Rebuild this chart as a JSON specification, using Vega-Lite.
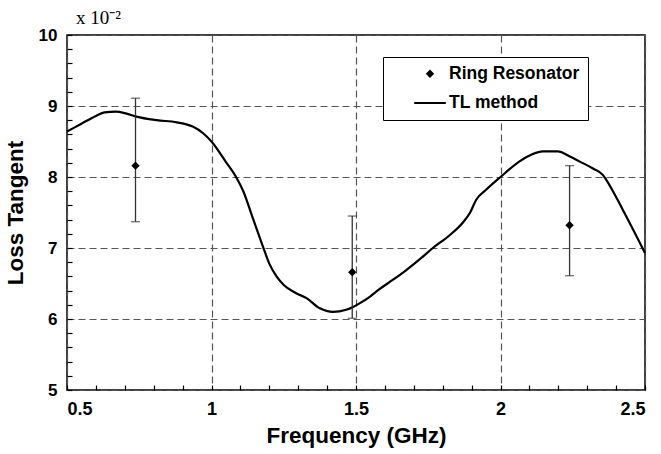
{
  "$schema": "https://vega.github.io/schema/vega-lite/v6.json",
  "width": 578,
  "height": 355,
  "autosize": "none",
  "padding": {"left": 67, "top": 35, "right": 16, "bottom": 64},
  "background": "white",
  "config": {
    "view": {"stroke": "black", "strokeWidth": 1.5},
    "font": "Liberation Sans"
  },
  "title": {
    "text": "x 10⁻²",
    "anchor": "start",
    "frame": "group",
    "font": "Liberation Serif",
    "fontSize": 19,
    "fontWeight": "normal",
    "color": "black",
    "offset": -2,
    "dx": 9
  },
  "datasets": {
    "tl": [
      {"f": 0.5, "v": 8.64}, {"f": 0.55, "v": 8.75}, {"f": 0.6, "v": 8.86}, {"f": 0.63, "v": 8.91},
      {"f": 0.67, "v": 8.92}, {"f": 0.7, "v": 8.9}, {"f": 0.74, "v": 8.85}, {"f": 0.81, "v": 8.8},
      {"f": 0.88, "v": 8.77}, {"f": 0.935, "v": 8.71}, {"f": 0.97, "v": 8.62}, {"f": 1.0, "v": 8.5},
      {"f": 1.05, "v": 8.21}, {"f": 1.085, "v": 8.0}, {"f": 1.11, "v": 7.8}, {"f": 1.143, "v": 7.42},
      {"f": 1.178, "v": 7.02}, {"f": 1.2, "v": 6.78}, {"f": 1.225, "v": 6.6}, {"f": 1.25, "v": 6.48},
      {"f": 1.29, "v": 6.37}, {"f": 1.33, "v": 6.29}, {"f": 1.375, "v": 6.15}, {"f": 1.42, "v": 6.1},
      {"f": 1.466, "v": 6.13}, {"f": 1.49, "v": 6.17}, {"f": 1.512, "v": 6.22}, {"f": 1.55, "v": 6.32},
      {"f": 1.581, "v": 6.42}, {"f": 1.627, "v": 6.55}, {"f": 1.674, "v": 6.69}, {"f": 1.72, "v": 6.84},
      {"f": 1.766, "v": 7.0}, {"f": 1.824, "v": 7.18}, {"f": 1.87, "v": 7.36}, {"f": 1.895, "v": 7.5},
      {"f": 1.916, "v": 7.68}, {"f": 1.95, "v": 7.82}, {"f": 2.0, "v": 8.0}, {"f": 2.066, "v": 8.22},
      {"f": 2.11, "v": 8.32}, {"f": 2.146, "v": 8.36}, {"f": 2.198, "v": 8.36}, {"f": 2.24, "v": 8.29},
      {"f": 2.273, "v": 8.22}, {"f": 2.32, "v": 8.12}, {"f": 2.354, "v": 8.03}, {"f": 2.366, "v": 7.96},
      {"f": 2.423, "v": 7.54}, {"f": 2.5, "v": 6.93}
    ],
    "rr": [
      {"f": 0.737, "v": 8.16, "lo": 7.37, "hi": 9.11, "series": "Ring Resonator"},
      {"f": 1.487, "v": 6.66, "lo": 6.01, "hi": 7.45, "series": "Ring Resonator"},
      {"f": 2.239, "v": 7.32, "lo": 6.61, "hi": 8.16, "series": "Ring Resonator"}
    ]
  },
  "resolve": {"axis": {"x": "independent", "y": "independent"}},
  "layer": [
    {
      "data": {"name": "tl"},
      "mark": {"type": "line", "color": "black", "strokeWidth": 2.2, "interpolate": "monotone"},
      "encoding": {
        "x": {
          "field": "f", "type": "quantitative",
          "scale": {"domain": [0.5, 2.5], "nice": false, "zero": false},
          "axis": {
            "orient": "bottom",
            "values": [0.5, 1, 1.5, 2, 2.5],
            "format": "~g",
            "title": "Frequency (GHz)",
            "titleFont": "Liberation Sans", "titleFontSize": 22.5, "titleFontWeight": "bold", "titleColor": "black",
            "titlePadding": 6,
            "labelFont": "Liberation Sans", "labelFontSize": 18, "labelFontWeight": "bold", "labelColor": "black",
            "labelPadding": 10,
            "ticks": false, "domain": false,
            "grid": true, "gridDash": [7, 4], "gridColor": "#555", "gridWidth": 1.2
          }
        },
        "y": {
          "field": "v", "type": "quantitative",
          "scale": {"domain": [5, 10], "nice": false, "zero": false},
          "axis": {
            "orient": "left",
            "values": [5, 6, 7, 8, 9, 10],
            "title": "Loss Tangent",
            "titleFont": "Liberation Sans", "titleFontSize": 22.5, "titleFontWeight": "bold", "titleColor": "black",
            "titlePadding": 11,
            "labelFont": "Liberation Sans", "labelFontSize": 17, "labelFontWeight": "bold", "labelColor": "black",
            "labelPadding": 10,
            "ticks": false, "domain": false,
            "grid": true, "gridDash": [7, 4], "gridColor": "#555", "gridWidth": 1.2
          }
        }
      }
    },
    {
      "data": {"name": "tl"},
      "mark": {"type": "point", "opacity": 0},
      "encoding": {
        "x": {
          "field": "f", "type": "quantitative",
          "axis": {
            "orient": "bottom",
            "values": [0.5, 0.6, 0.7, 0.8, 0.9, 1, 1.1, 1.2, 1.3, 1.4, 1.5, 1.6, 1.7, 1.8, 1.9, 2, 2.1, 2.2, 2.3, 2.4, 2.5],
            "labels": false, "title": null, "grid": false, "domain": false,
            "ticks": true, "tickSize": -5, "tickColor": "black", "tickWidth": 1.2
          }
        },
        "y": {
          "field": "v", "type": "quantitative",
          "axis": {
            "orient": "left",
            "values": [5, 5.2, 5.4, 5.6, 5.8, 6, 6.2, 6.4, 6.6, 6.8, 7, 7.2, 7.4, 7.6, 7.8, 8, 8.2, 8.4, 8.6, 8.8, 9, 9.2, 9.4, 9.6, 9.8, 10],
            "labels": false, "title": null, "grid": false, "domain": false,
            "ticks": true, "tickSize": -5, "tickColor": "black", "tickWidth": 1.2
          }
        }
      }
    },
    {
      "data": {"name": "rr"},
      "mark": {"type": "rule", "color": "#333", "strokeWidth": 1.3},
      "encoding": {
        "x": {"field": "f", "type": "quantitative", "axis": null},
        "y": {"field": "lo", "type": "quantitative", "axis": null},
        "y2": {"field": "hi"}
      }
    },
    {
      "data": {"name": "rr"},
      "mark": {"type": "tick", "orient": "horizontal", "color": "#333", "size": 9, "thickness": 1.3},
      "encoding": {
        "x": {"field": "f", "type": "quantitative", "axis": null},
        "y": {"field": "lo", "type": "quantitative", "axis": null}
      }
    },
    {
      "data": {"name": "rr"},
      "mark": {"type": "tick", "orient": "horizontal", "color": "#333", "size": 9, "thickness": 1.3},
      "encoding": {
        "x": {"field": "f", "type": "quantitative", "axis": null},
        "y": {"field": "hi", "type": "quantitative", "axis": null}
      }
    },
    {
      "data": {"name": "rr"},
      "mark": {"type": "point", "filled": true, "color": "black", "opacity": 1},
      "encoding": {
        "x": {"field": "f", "type": "quantitative", "axis": null},
        "y": {"field": "v", "type": "quantitative", "axis": null},
        "shape": {
          "field": "series", "type": "nominal",
          "scale": {"domain": ["Ring Resonator", "TL method"], "range": ["diamond", "M-1,-0.065L1,-0.065L1,0.065L-1,0.065Z"]},
          "legend": {
            "title": null,
            "orient": "none", "legendX": 316, "legendY": 22,
            "fillColor": "white", "strokeColor": "black",
            "padding": 8, "symbolOffset": 22,
            "labelFont": "Liberation Sans", "labelFontSize": 17.5, "labelFontWeight": "bold", "labelColor": "black",
            "labelExpr": "datum.label + '\u00a0\u00a0\u00a0\u00a0\u00a0'",
            "labelOffset": 2, "rowPadding": 3,
            "encode": {"symbols": {"update": {"fill": {"value": "black"}, "opacity": {"value": 1}}}}
          }
        },
        "size": {
          "field": "series", "type": "nominal",
          "scale": {"domain": ["Ring Resonator", "TL method"], "range": [70, 1000]},
          "legend": {
            "title": null,
            "orient": "none", "legendX": 316, "legendY": 22,
            "fillColor": "white", "strokeColor": "black",
            "padding": 8, "symbolOffset": 22,
            "labelFont": "Liberation Sans", "labelFontSize": 17.5, "labelFontWeight": "bold", "labelColor": "black",
            "labelExpr": "datum.label + '\u00a0\u00a0\u00a0\u00a0\u00a0'",
            "labelOffset": 2, "rowPadding": 3,
            "encode": {"symbols": {"update": {"fill": {"value": "black"}, "opacity": {"value": 1}}}}
          }
        }
      }
    }
  ]
}
